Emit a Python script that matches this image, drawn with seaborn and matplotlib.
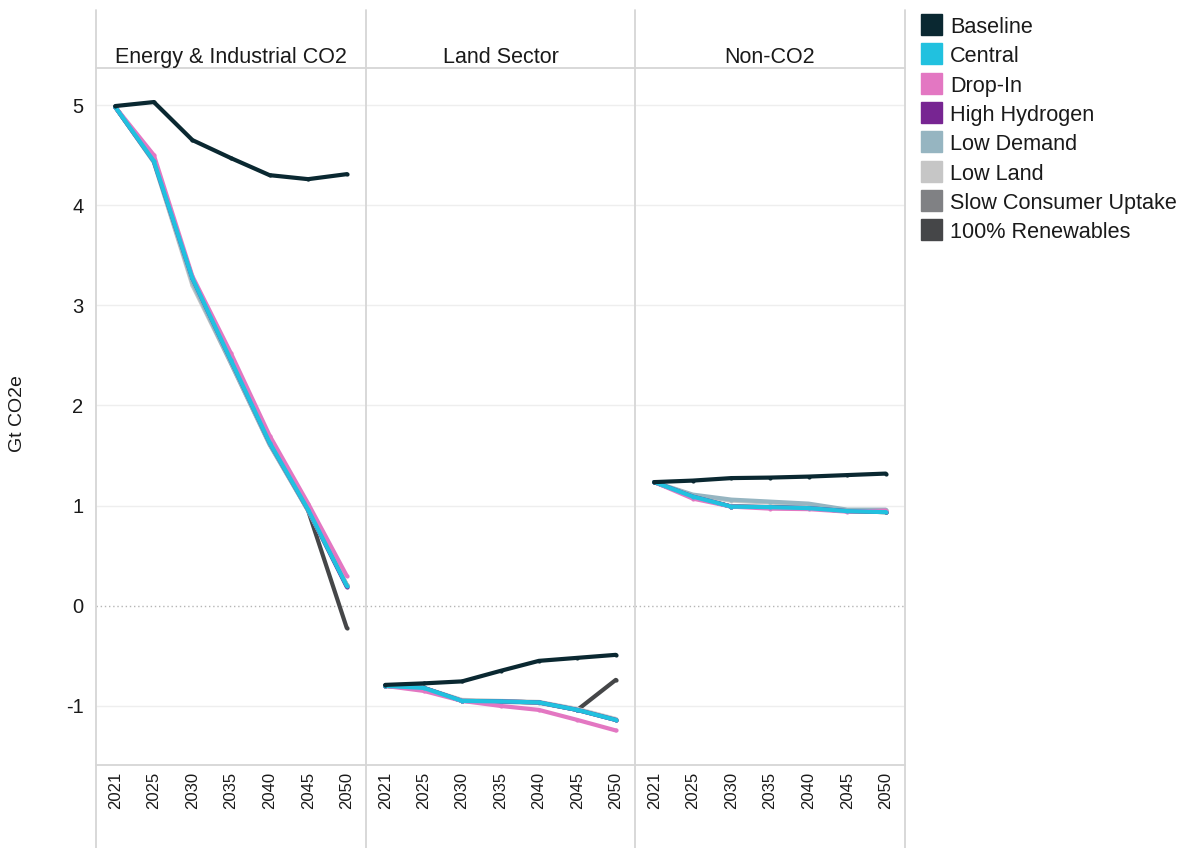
import pandas as pd
import matplotlib
matplotlib.use("Agg")
import matplotlib.pyplot as plt
from matplotlib import font_manager
from matplotlib.lines import Line2D
from matplotlib.patches import Rectangle
import seaborn as sns

# =====================================================
# DATA
# =====================================================

years = ["2021", "2025", "2030", "2035", "2040", "2045", "2050"]

scenarios = ["Baseline", "Central", "Drop-In", "High Hydrogen", "Low Demand",
             "Low Land", "Slow Consumer Uptake", "100% Renewables"]
colors = ["#0a2831", "#21c1df", "#e377c2", "#772592", "#96b5c1",
          "#c6c6c6", "#808184", "#454648"]

panels = ["Energy & Industrial CO2", "Land Sector", "Non-CO2"]

energy_co2 = {
    "Baseline":             [4.99, 5.03, 4.65, 4.47, 4.30, 4.26, 4.31],
    "Central":              [4.98, 4.44, 3.27, 2.45, 1.63, 0.96, 0.20],
    "Drop-In":              [4.98, 4.50, 3.29, 2.52, 1.70, 1.02, 0.30],
    "High Hydrogen":        [4.98, 4.44, 3.27, 2.45, 1.63, 0.96, 0.19],
    "Low Demand":           [4.98, 4.43, 3.23, 2.42, 1.61, 0.95, 0.20],
    "Low Land":             [4.98, 4.43, 3.20, 2.42, 1.61, 0.95, 0.21],
    "Slow Consumer Uptake": [4.98, 4.44, 3.25, 2.44, 1.62, 0.96, 0.21],
    "100% Renewables":      [4.98, 4.44, 3.27, 2.45, 1.63, 0.95, -0.22],
}

land_sector = {
    "Baseline":             [-0.79, -0.775, -0.755, -0.65, -0.55, -0.52, -0.49],
    "Central":              [-0.80, -0.82, -0.95, -0.955, -0.965, -1.04, -1.14],
    "Drop-In":              [-0.80, -0.85, -0.95, -1.00, -1.04, -1.14, -1.245],
    "High Hydrogen":        [-0.80, -0.82, -0.95, -0.955, -0.965, -1.04, -1.14],
    "Low Demand":           [-0.80, -0.82, -0.95, -0.96, -0.97, -1.04, -1.14],
    "Low Land":             [-0.80, -0.82, -0.94, -0.95, -0.96, -1.03, -1.13],
    "Slow Consumer Uptake": [-0.80, -0.82, -0.95, -0.955, -0.965, -1.04, -1.14],
    "100% Renewables":      [-0.80, -0.82, -0.95, -0.955, -0.965, -1.04, -0.74],
}

non_co2 = {
    "Baseline":             [1.235, 1.25, 1.275, 1.28, 1.29, 1.305, 1.32],
    "Central":              [1.235, 1.09, 0.99, 0.985, 0.975, 0.945, 0.935],
    "Drop-In":              [1.235, 1.07, 0.99, 0.97, 0.965, 0.94, 0.95],
    "High Hydrogen":        [1.235, 1.09, 0.99, 0.985, 0.975, 0.945, 0.94],
    "Low Demand":           [1.235, 1.11, 1.06, 1.04, 1.02, 0.96, 0.96],
    "Low Land":             [1.235, 1.10, 1.05, 1.03, 1.01, 0.955, 0.955],
    "Slow Consumer Uptake": [1.235, 1.09, 0.99, 0.985, 0.975, 0.945, 0.935],
    "100% Renewables":      [1.235, 1.09, 0.99, 0.985, 0.975, 0.945, 0.935],
}

yticks = [-1, 0, 1, 2, 3, 4, 5]

rows = []
for panel, d in zip(panels, [energy_co2, land_sector, non_co2]):
    for sc in scenarios:
        for yr, v in zip(years, d[sc]):
            rows.append({"panel": panel, "scenario": sc, "year": yr, "value": v})
df = pd.DataFrame(rows)

# =====================================================
# STYLE
# =====================================================

sns.set_theme(style="white")
plt.rcParams["font.family"] = ["Liberation Sans", "DejaVu Sans"]
plt.rcParams["axes.unicode_minus"] = False

# narrow face for the year labels if it is there
installed = {f.name for f in font_manager.fontManager.ttflist}
if "Liberation Sans Narrow" in installed:
    year_font, year_size = "Liberation Sans Narrow", 14
else:
    year_font, year_size = "Liberation Sans", 12

W, H = 1187, 848
TXT = "#1a1a1a"
LINE = "#d6d6d6"


def fx(px):
    return px / W


def fy(py):
    return 1 - py / H


edges = [96, 366, 635, 905]
top, bottom = 68, 765

fig = plt.figure(figsize=(W / 100, H / 100), dpi=100)
palette = dict(zip(scenarios, colors))

# =====================================================
# PANELS
# =====================================================

for i, panel in enumerate(panels):
    ax = fig.add_axes([fx(edges[i]), fy(bottom),
                       fx(edges[i + 1]) - fx(edges[i]), (bottom - top) / H])
    for v in yticks:
        if v == 0:
            ax.axhline(v, color="#b5b5b5", lw=1, ls=(0, (1, 2)), zorder=0)
        else:
            ax.axhline(v, color="#eeeeee", lw=1, zorder=0)

    sub = df[df["panel"] == panel]
    sns.lineplot(data=sub, x="year", y="value", hue="scenario",
                 hue_order=scenarios[::-1], palette=palette,
                 lw=3, sort=False, legend=False, ax=ax,
                 marker="o", markersize=3, markeredgewidth=0)

    ax.set_xlim(-0.5, 6.5)
    ax.set_ylim(-1.59, 5.37)
    ax.set_xlabel("")
    ax.set_ylabel("")
    for s in ax.spines.values():
        s.set_visible(False)
    ax.tick_params(axis="x", length=0, pad=5, labelrotation=90, colors=TXT)
    for lab in ax.get_xticklabels():
        lab.set_fontfamily([year_font, "DejaVu Sans"])
        lab.set_fontsize(year_size)
    if i == 0:
        ax.set_yticks(yticks, labels=[str(t) for t in yticks])
        ax.tick_params(axis="y", length=0, pad=9, labelsize=14.5, colors=TXT)
    else:
        ax.set_yticks(yticks, labels=[])
        ax.tick_params(axis="y", length=0)

    cx = (edges[i] + edges[i + 1]) / 2
    fig.text(fx(cx), fy(63), panel, ha="center", va="baseline",
             fontsize=15.5, color=TXT)

# frame lines
for x in edges:
    fig.add_artist(Line2D([fx(x), fx(x)], [fy(10), fy(H)], color=LINE, lw=1.3,
                          transform=fig.transFigure))
for y in [top, bottom]:
    fig.add_artist(Line2D([fx(edges[0]), fx(edges[-1])], [fy(y), fy(y)],
                          color=LINE, lw=1.3, transform=fig.transFigure))

fig.text(fx(18), fy(414), "Gt CO2e", rotation=90, ha="center", va="center",
         fontsize=14, color=TXT)

# =====================================================
# LEGEND
# =====================================================

for k, (sc, c) in enumerate(zip(scenarios, colors)):
    y0 = 14 + k * 29.3
    fig.add_artist(Rectangle((fx(921), fy(y0 + 21)), 21 / W, 21 / H,
                             color=c, transform=fig.transFigure))
    fig.text(fx(950), fy(y0 + 19), sc, ha="left", va="baseline",
             fontsize=15.6, color=TXT)

plt.savefig("out.png", dpi=100)
plt.close()
